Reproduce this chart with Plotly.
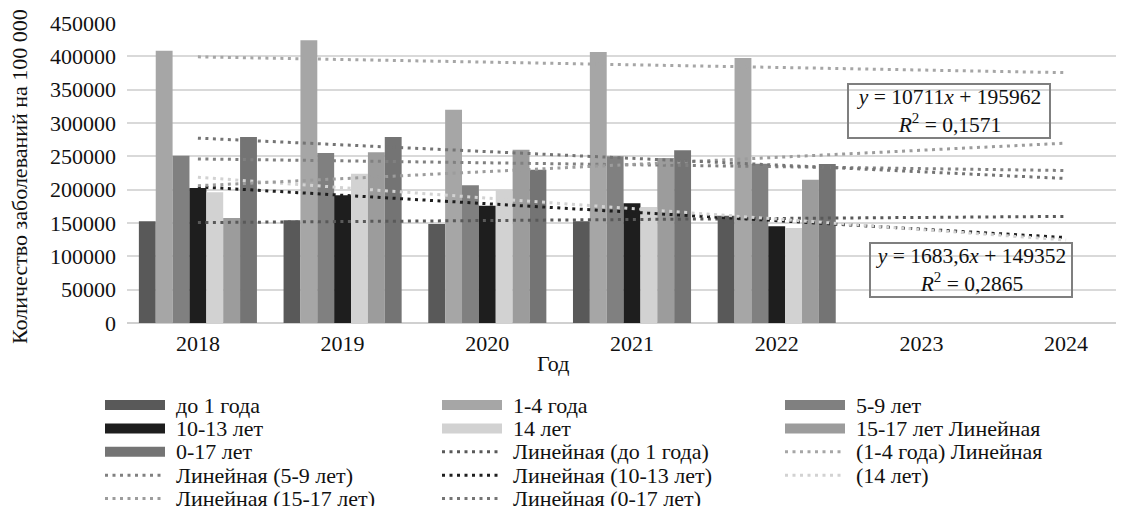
import numpy as np
import plotly.graph_objects as go

years_all = ["2018", "2019", "2020", "2021", "2022", "2023", "2024"]
years_data = ["2018", "2019", "2020", "2021", "2022"]

series_names = ["до 1 года", "1-4 года", "5-9 лет", "10-13 лет", "14 лет", "15-17 лет", "0-17 лет"]
v_do1 = [152500, 154000, 148500, 152500, 161000]
v_1_4 = [408500, 424000, 320000, 406500, 397500]
v_5_9 = [251000, 255000, 206500, 250000, 239000]
v_10_13 = [202500, 191500, 176000, 179500, 145000]
v_14 = [196000, 224000, 200000, 174000, 142500]
v_15_17 = [157500, 256000, 260000, 247500, 215000]
v_0_17 = [279000, 279000, 230000, 259000, 238500]
values = [v_do1, v_1_4, v_5_9, v_10_13, v_14, v_15_17, v_0_17]

colors = ["#595959", "#a6a6a6", "#808080", "#1e1e1e", "#d2d2d2", "#9c9c9c", "#747474"]

legend_labels = [
    "до 1 года", "1-4 года", "5-9 лет",
    "10-13 лет", "14 лет", "15-17 лет Линейная",
    "0-17 лет", "Линейная (до 1 года)", "(1-4 года) Линейная",
    "Линейная (5-9 лет)", "Линейная (10-13 лет)", "(14 лет)",
    "Линейная (15-17 лет)", "Линейная (0-17 лет)",
]
x_title = "Год"
y_title = "Количество заболеваний на 100 000"
eq1 = "<i>y</i> = 10711<i>x</i> + 195962<br><i>R</i><sup>2</sup> = 0,1571"
eq2 = "<i>y</i> = 1683,6<i>x</i> + 149352<br><i>R</i><sup>2</sup> = 0,2865"

FONT = "Liberation Serif, Times New Roman, serif"
FS = 22
TXT = "#111111"
W, H = 1124, 506
OFF = 8  # page offset of the plot div
ML, MR, MT = 127 - OFF, OFF, 23 - OFF
PH = 300
MB = H - MT - PH
PW = W - ML - MR


def px(xp):
    return (xp - OFF - ML) / PW


def py(yp):
    return (H - MB - (yp - OFF)) / PH


fig = go.Figure()
for name, vals, col in zip(series_names, values, colors):
    fig.add_trace(go.Bar(x=years_data, y=vals, name=name, marker=dict(color=col, line=dict(width=0)),
                         showlegend=False))

# linear trendlines (least squares over the observed years, forecast 2 periods)
xi = np.arange(1, len(years_data) + 1)
xf = np.arange(1, len(years_all) + 1)
for name, vals, col in zip(series_names, values, colors):
    k, b = np.polyfit(xi, np.array(vals, dtype=float), 1)
    fig.add_trace(go.Scatter(x=years_all, y=k * xf + b, mode="lines", name="Линейная (" + name + ")",
                             line=dict(color=col, width=3, dash="3px,4.5px"), showlegend=False))

# manual legend (3 columns)
col_x = [105, 442, 785]
row_y0, row_dy = 405, 23.4
shapes = []
annotations = []
entry_kind = ["bar"] * 7 + ["line"] * 7
entry_color = colors + colors
for i, lab in enumerate(legend_labels):
    r, c = divmod(i, 3)
    x0 = col_x[c]
    yc = row_y0 + r * row_dy
    if entry_kind[i] == "bar":
        shapes.append(dict(type="rect", xref="paper", yref="paper", x0=px(x0), x1=px(x0 + 60),
                           y0=py(yc - 5), y1=py(yc + 5), fillcolor=entry_color[i], line=dict(width=0)))
    else:
        shapes.append(dict(type="line", xref="paper", yref="paper", x0=px(x0), x1=px(x0 + 60),
                           y0=py(yc), y1=py(yc), line=dict(color=entry_color[i], width=3, dash="3px,4.5px")))
    annotations.append(dict(text=lab, xref="paper", yref="paper", x=px(x0 + 69), y=py(yc),
                            xanchor="left", yanchor="middle", showarrow=False,
                            font=dict(family=FONT, size=FS, color=TXT)))

for txt, cx, cy in [(eq1, 949, 111), (eq2, 971, 270)]:
    annotations.append(dict(text=txt, xref="paper", yref="paper", x=px(cx), y=py(cy),
                            xanchor="center", yanchor="middle", showarrow=False,
                            width=198, height=50, borderpad=1, bordercolor="#7f7f7f", borderwidth=2,
                            bgcolor="rgba(255,255,255,0)",
                            font=dict(family=FONT, size=21.5, color=TXT)))

# axis titles
annotations.append(dict(text=x_title, xref="paper", yref="paper", x=px(553), y=py(363),
                        xanchor="center", yanchor="middle", showarrow=False,
                        font=dict(family=FONT, size=FS, color=TXT)))
annotations.append(dict(text=y_title, xref="paper", yref="paper", x=px(19), y=py(177),
                        xanchor="center", yanchor="middle", showarrow=False, textangle=-90,
                        font=dict(family=FONT, size=FS, color=TXT)))

fig.update_layout(
    width=W, height=H,
    margin=dict(l=ML, r=MR, t=MT, b=MB, autoexpand=False),
    paper_bgcolor="white", plot_bgcolor="white",
    barmode="group", bargap=0.184, bargroupgap=0,
    font=dict(family=FONT, size=FS, color=TXT),
    showlegend=False,
    shapes=shapes,
    annotations=annotations,
)
fig.update_xaxes(type="category", categoryorder="array", categoryarray=years_all,
                 range=[-0.49, 6.40], showgrid=False, showline=False, ticks="",
                 ticklabelstandoff=5, automargin=False,
                 tickfont=dict(family=FONT, size=FS, color=TXT))
fig.update_yaxes(range=[0, 450000], dtick=50000, showgrid=True, gridcolor="#d9d9d9", gridwidth=1.5,
                 zeroline=True, zerolinecolor="#d0d0d0", zerolinewidth=1.5, ticks="",
                 ticklabelstandoff=10, tickformat="d", automargin=False,
                 tickfont=dict(family=FONT, size=FS, color=TXT))

fig.write_html("out.html")
